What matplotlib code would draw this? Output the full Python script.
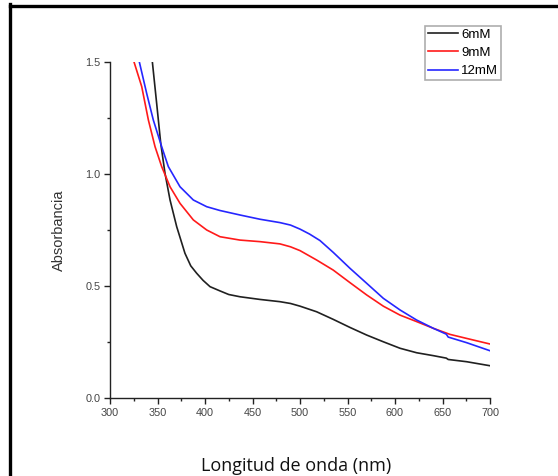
import matplotlib.pyplot as plt
from matplotlib.lines import Line2D
from matplotlib.ticker import MultipleLocator

# wavelength (nm) and absorbance
wl_6 = [344.6, 349.1, 353.4, 357.9, 363.2, 370.2, 378.9, 385, 391.2, 398, 405.3,
        415.8, 425, 436.8, 457.9, 478.9, 490, 500, 517.5, 535, 552.6, 570.2,
        587.7, 605.3, 622.8, 640.4, 654, 656, 675.4, 700]
abs_6 = [1.50, 1.316, 1.137, 1.003, 0.884, 0.765, 0.646, 0.59, 0.557, 0.525, 0.497,
         0.478, 0.462, 0.452, 0.44, 0.43, 0.422, 0.41, 0.385, 0.351, 0.315, 0.281,
         0.251, 0.222, 0.202, 0.189, 0.178, 0.172, 0.162, 0.144]

wl_9 = [325.3, 333.4, 340.4, 347.4, 354.4, 363.2, 373.7, 387.7, 401.8, 415.8,
        436.8, 457.9, 478.9, 490, 500, 517.5, 535, 552.6, 570.2, 587.7, 605.3,
        622.8, 640.4, 657.9, 675.4, 700]
abs_9 = [1.50, 1.39, 1.241, 1.122, 1.033, 0.943, 0.869, 0.795, 0.75, 0.72,
         0.705, 0.698, 0.688, 0.675, 0.658, 0.616, 0.571, 0.515, 0.46, 0.41, 0.37,
         0.341, 0.311, 0.284, 0.266, 0.241]

wl_12 = [330.9, 338.6, 345.6, 354.4, 361.4, 373.7, 387.7, 401.8, 415.8, 436.8,
         457.9, 478.9, 490, 500, 510, 521, 535, 552.6, 570.2, 587.7, 605.3, 622.8,
         640.4, 654, 656, 675.4, 700]
abs_12 = [1.50, 1.36, 1.241, 1.122, 1.033, 0.943, 0.884, 0.854, 0.837, 0.817,
          0.798, 0.783, 0.772, 0.754, 0.732, 0.703, 0.650, 0.579, 0.512, 0.445,
          0.393, 0.348, 0.311, 0.285, 0.272, 0.247, 0.211]

labels = ['6mM', '9mM', '12mM']
colors = ['#202020', '#ff1a1a', '#2626ff']

fig = plt.figure(figsize=(5.58, 4.76), dpi=100)
ax = fig.add_axes([110 / 558, 1 - 398 / 476, 380 / 558, 336 / 476])

for x, y, lab, c in zip([wl_6, wl_9, wl_12], [abs_6, abs_9, abs_12], labels, colors):
    ax.plot(x, y, color=c, lw=1.2, label=lab)

ax.set_xlim(300, 700)
ax.set_ylim(0, 1.5)
ax.xaxis.set_major_locator(MultipleLocator(50))
ax.xaxis.set_minor_locator(MultipleLocator(25))
ax.yaxis.set_major_locator(MultipleLocator(0.5))
ax.yaxis.set_minor_locator(MultipleLocator(0.25))
ax.yaxis.set_major_formatter(plt.FormatStrFormatter('%.1f'))

for s in ['top', 'right']:
    ax.spines[s].set_visible(False)
for s in ['left', 'bottom']:
    ax.spines[s].set_linewidth(1.0)
    ax.spines[s].set_color('#222222')

ax.tick_params(which='major', direction='out', length=4, width=1, color='#222222',
               labelsize=7.8, labelcolor='#444444', pad=3)
ax.tick_params(which='minor', direction='out', length=2.5, width=1, color='#222222')
for t in ax.get_xticklabels() + ax.get_yticklabels():
    t.set_family(['Liberation Sans Narrow', 'Liberation Sans'])

ax.set_ylabel('Absorbancia', family='Liberation Sans', fontsize=10.5, color='#333333',
              labelpad=14)
fig.text(296 / 558, 1 - 471 / 476, 'Longitud de onda (nm)', ha='center', va='baseline',
         family='Open Sans', fontsize=13, color='#111111')

leg = ax.legend(loc='upper left', bbox_to_anchor=(425 / 558, 1 - 26 / 476),
                bbox_transform=fig.transFigure, frameon=True, fancybox=False,
                prop={'family': 'Liberation Sans', 'size': 9.5}, handlelength=2.3,
                handletextpad=0.25, borderpad=0.2, labelspacing=0.45,
                borderaxespad=0)
leg.get_frame().set_edgecolor('#999999')
leg.get_frame().set_linewidth(1.2)

# outer black frame (left and top edges visible)
fig.add_artist(Line2D([9.5 / 558, 9.5 / 558], [0, 1 - 4 / 476], color='black', lw=2.4,
                      transform=fig.transFigure, solid_capstyle='projecting'))
fig.add_artist(Line2D([9.5 / 558, 1], [1 - 5.5 / 476, 1 - 5.5 / 476], color='black',
                      lw=2.4, transform=fig.transFigure, solid_capstyle='projecting'))

fig.savefig('out.png', dpi=100)
